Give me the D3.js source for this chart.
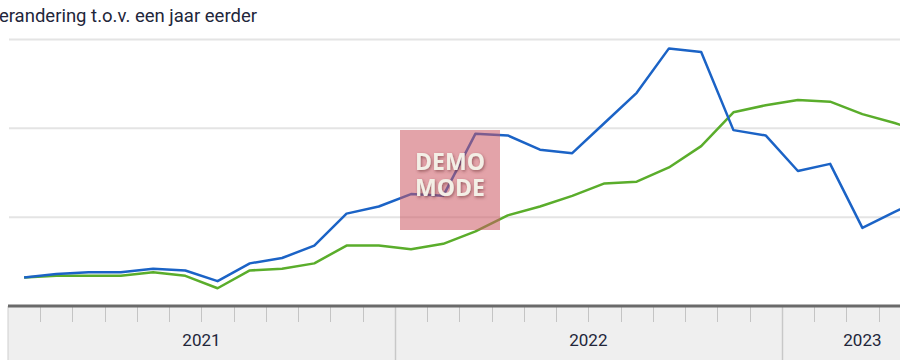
<!DOCTYPE html>
<html>
<head>
<meta charset="utf-8">
<script src="https://cdn.jsdelivr.net/npm/d3@7"></script>
<style>
	body { margin: 0; background: #fff; }
	svg { display: block; font-family: Roboto, "Noto Sans", sans-serif; }
</style>
</head>
<body>
<div id="chart"></div>
<script>
/*
 * Verandering t.o.v. een jaar eerder, maandcijfers jan 2021 - mei 2023
 */

var maanden = ["2021-01","2021-02","2021-03","2021-04","2021-05","2021-06","2021-07","2021-08","2021-09","2021-10","2021-11","2021-12",
	"2022-01","2022-02","2022-03","2022-04","2022-05","2022-06","2022-07","2022-08","2022-09","2022-10","2022-11","2022-12",
	"2023-01","2023-02","2023-03","2023-04","2023-05"];

var jaren = ["2021", "2022", "2023"];

var reeksBlauw = [1.6, 1.8, 1.9, 1.9, 2.1, 2.0, 1.4, 2.4, 2.7, 3.4, 5.2, 5.6,
	6.3, 6.2, 9.7, 9.6, 8.8, 8.6, 10.3, 12.0, 14.5, 14.3, 9.9, 9.6,
	7.6, 8.0, 4.4, 5.3, 6.1];

var reeksGroen = [1.6, 1.7, 1.7, 1.7, 1.9, 1.7, 1.0, 2.0, 2.1, 2.4, 3.4, 3.4,
	3.2, 3.5, 4.2, 5.1, 5.6, 6.2, 6.9, 7.0, 7.8, 9.0, 10.9, 11.3,
	11.6, 11.5, 10.8, 10.3, 9.7];

var rasterWaarden = [5, 10, 15];

var width = 900, height = 360;

var svg = d3.select("#chart").append("svg")
	.attr("width", width)
	.attr("height", height);

//Band scale per maand, de grafiek loopt rechts door buiten beeld
var x = d3.scaleBand().domain(maanden).range([8, 943]).padding(0);
var y = d3.scaleLinear().domain([0, 15]).range([306, 39.5]);

var asTop = y(0);

//Rasterlijnen
svg.append("g").selectAll("line")
	.data(rasterWaarden)
	.enter().append("line")
	.attr("x1", 9)
	.attr("x2", width)
	.attr("y1", function(d) { return y(d); })
	.attr("y2", function(d) { return y(d); })
	.attr("stroke", "#e4e4e4")
	.attr("stroke-width", 2);

//Titel (links afgesneden, net als het origineel)
svg.append("text")
	.attr("x", 257)
	.attr("y", 22)
	.attr("text-anchor", "end")
	.attr("fill", "#22263a")
	.style("font-size", "18.5px")
	.text("Verandering t.o.v. een jaar eerder");

//X-as band
var as = svg.append("g");
var xEind = x.range()[1];

as.append("rect")
	.attr("x", x.range()[0])
	.attr("y", asTop)
	.attr("width", xEind - x.range()[0])
	.attr("height", height - asTop)
	.attr("fill", "#efefef");

as.append("line")
	.attr("x1", x.range()[0]).attr("x2", x.range()[0])
	.attr("y1", asTop).attr("y2", height)
	.attr("stroke", "#cfcfcf");

//Maandstreepjes op de grenzen tussen maanden
as.selectAll("line.maand")
	.data(maanden.slice(1).filter(function(m) { return m.slice(5) !== "01"; }))
	.enter().append("line")
	.attr("class", "maand")
	.attr("x1", function(d) { return Math.round(x(d)) + 0.5; })
	.attr("x2", function(d) { return Math.round(x(d)) + 0.5; })
	.attr("y1", asTop)
	.attr("y2", asTop + 16)
	.attr("stroke", "#c4c4c4");

//Jaargrenzen over de volle hoogte
as.selectAll("line.jaar")
	.data(jaren.slice(1))
	.enter().append("line")
	.attr("class", "jaar")
	.attr("x1", function(d) { return Math.round(x(d + "-01")) + 0.5; })
	.attr("x2", function(d) { return Math.round(x(d + "-01")) + 0.5; })
	.attr("y1", asTop)
	.attr("y2", height)
	.attr("stroke", "#c8c8c8")
	.attr("stroke-width", 1.5);

as.selectAll("text.jaar")
	.data(jaren)
	.enter().append("text")
	.attr("class", "jaar")
	.attr("x", function(d) {
		var ms = maanden.filter(function(m) { return m.slice(0, 4) === d; });
		return (x(ms[0]) + x(ms[ms.length - 1]) + x.bandwidth()) / 2;
	})
	.attr("y", 346)
	.attr("text-anchor", "middle")
	.attr("fill", "#22263a")
	.style("font-size", "17px")
	.text(function(d) { return d; });

as.append("line")
	.attr("x1", x.range()[0]).attr("x2", xEind)
	.attr("y1", asTop).attr("y2", asTop)
	.attr("stroke", "#6a6a6a")
	.attr("stroke-width", 3);

//Lijnen
function tekenLijn(waarden, kleur){
	var lijn = d3.line()
		.x(function(d, i) { return x(maanden[i]) + x.bandwidth() / 2; })
		.y(function(d) { return y(d); });
	svg.append("path")
		.datum(waarden)
		.attr("d", lijn)
		.attr("fill", "none")
		.attr("stroke", kleur)
		.attr("stroke-width", 2.5)
		.attr("stroke-linejoin", "round");
}

tekenLijn(reeksGroen, "#5aad2b");
tekenLijn(reeksBlauw, "#1b63c6");

//Demo watermerk
var demo = svg.append("g");
demo.append("rect")
	.attr("x", 400).attr("y", 130)
	.attr("width", 100).attr("height", 100)
	.attr("fill", "#cc5763")
	.attr("opacity", 0.55);

var filter = svg.append("defs").append("filter").attr("id", "schaduw");
filter.append("feDropShadow")
	.attr("dx", 1).attr("dy", 1.5)
	.attr("stdDeviation", 1.5)
	.attr("flood-color", "#6b2a30")
	.attr("flood-opacity", 0.6);

demo.selectAll("text")
	.data(["DEMO", "MODE"])
	.enter().append("text")
	.attr("x", 450)
	.attr("y", function(d, i) { return 170 + i * 26; })
	.attr("text-anchor", "middle")
	.attr("fill", "#f3efe6")
	.attr("filter", "url(#schaduw)")
	.style("font-size", "23px")
	.style("font-weight", "bold")
	.style("font-family", "'Open Sans', sans-serif")
	.text(function(d) { return d; });
</script>
</body>
</html>
